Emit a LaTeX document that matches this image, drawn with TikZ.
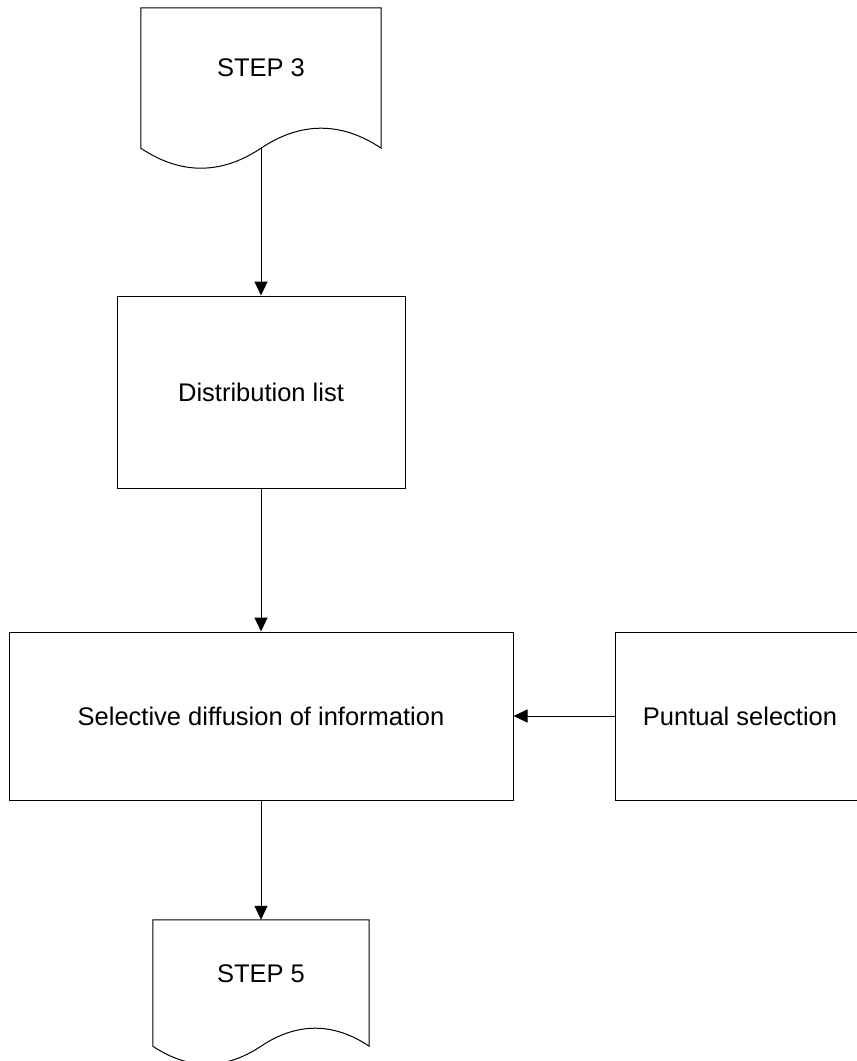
\documentclass[tikz,border=0pt]{standalone}
\usepackage{fontspec}
\setmainfont{Liberation Sans}
\usetikzlibrary{arrows.meta}

% Outline of a flowchart "document" symbol hung from a node:
% #1 node name, #2 wave amplitude (pt), #3 horizontal control offset (pt)
\newcommand\drawdoc[3]{%
  \draw[outline] (#1.north west) -- (#1.north east) -- ([yshift=-#2pt]#1.south east)
    .. controls +(-#3,-1.333*#2) and +(#3,-1.333*#2) .. ([yshift=-#2pt]#1.south)
    .. controls +(-#3,1.333*#2) and +(#3,1.333*#2) .. ([yshift=-#2pt]#1.south west) -- cycle;}

\begin{document}
\begin{tikzpicture}[x=1pt,y=-1pt,
  every node/.style={font=\fontsize{25.5}{30}\selectfont, inner sep=0pt},
  procbox/.style={draw, line width=1pt, rectangle},
  docbox/.style={rectangle},
  outline/.style={line width=1pt},
  flow/.style={line width=1pt, -{Triangle[length=14pt,width=13pt]}}]
\useasboundingbox (0,0) rectangle (857,1061);
\begin{scope}
\clip (0,0) rectangle (857,1061);

% document symbols
\node[docbox, minimum width=240pt, minimum height=120pt] (s3) at (261,68) {STEP 3};
\drawdoc{s3}{20}{40}
\coordinate (s3b) at ([yshift=-20pt]s3.south);

\node[docbox, minimum width=216pt, minimum height=108pt] (s5) at (261,974) {STEP 5};
\drawdoc{s5}{18}{36}

% process boxes
\node[procbox, minimum width=288pt, minimum height=192pt] (dist) at (261,392) {Distribution list};
\node[procbox, minimum width=504pt, minimum height=168pt] (sel) at (261,716) {Selective diffusion of information};
\node[procbox, minimum width=250pt, minimum height=168pt] (punt) at (740,716) {Puntual selection};

% connectors
\draw[flow] (s3b) -- (dist.north);
\draw[flow] (dist.south) -- (sel.north);
\draw[flow] (punt.west) -- (sel.east);
\draw[flow] (sel.south) -- (s5.north);
\end{scope}
\end{tikzpicture}
\end{document}
